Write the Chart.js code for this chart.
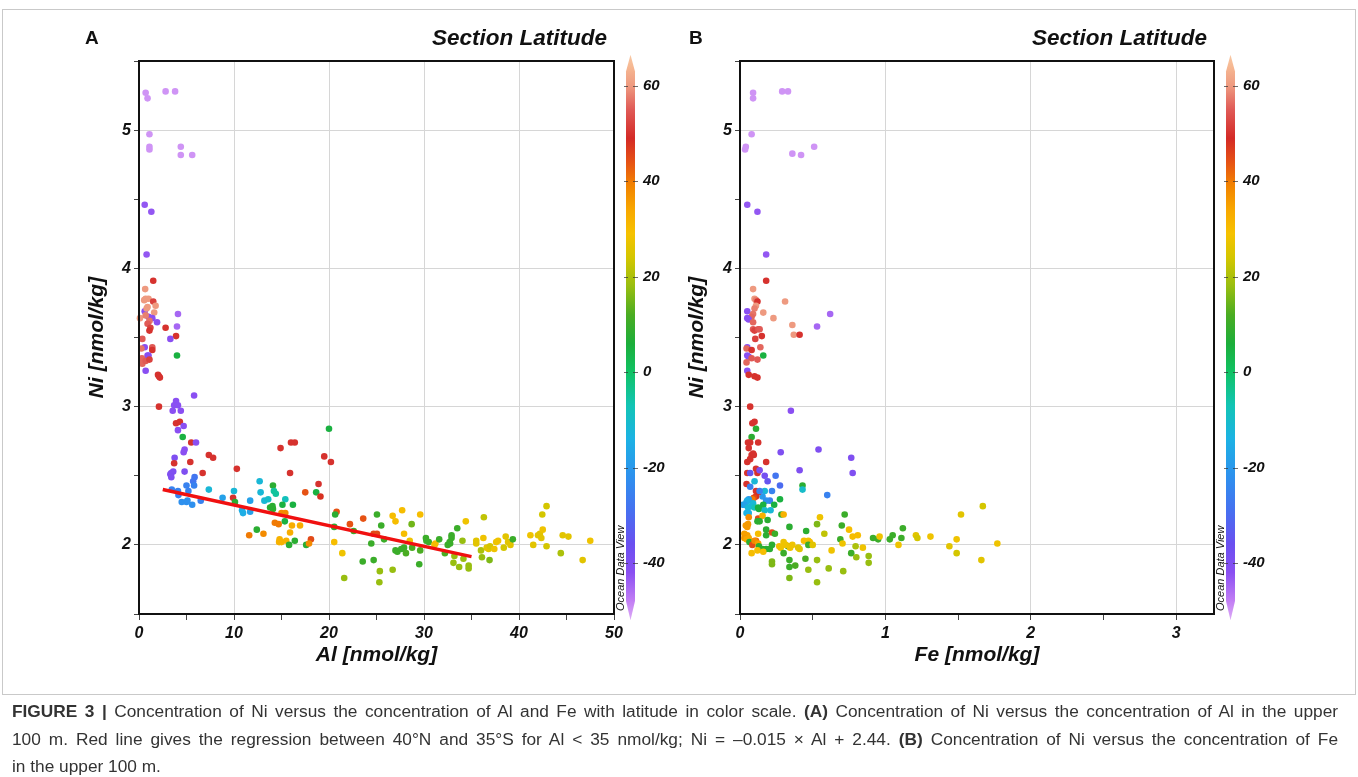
<!DOCTYPE html>
<html>
<head>
<meta charset="utf-8">
<script src="https://cdn.jsdelivr.net/npm/chart.js@4.4.0/dist/chart.umd.min.js"></script>
<style>
  body { margin: 0; background: #fff; width: 1358px; height: 777px; position: relative; overflow: hidden;
         font-family: "Liberation Sans", Arial, sans-serif; }
  #frame { position: absolute; left: 2px; top: 9px; width: 1352px; height: 684px; border: 1px solid #c9c9c9; }
  canvas { position: absolute; top: 0; }
  #cA { left: 0; }
  #cB { left: 680px; }
  .lbl { position: absolute; top: 27px; font-weight: bold; font-size: 19px; line-height: 22px; color: #111; }
  .sec { position: absolute; top: 25px; width: 300px; text-align: right; font-weight: bold; font-style: italic;
         font-size: 22.5px; line-height: 26px; color: #111; }
  #cap { position: absolute; left: 12px; top: 698px; width: 1326px; font-size: 17.3px; line-height: 27.5px; color: #333; }
  .ln { white-space: nowrap; text-align: justify; text-align-last: justify; }
  .ln.last { text-align-last: left; }
</style>
</head>
<body>
<div id="frame"></div>
<canvas id="cA" width="680" height="700"></canvas>
<canvas id="cB" width="678" height="700"></canvas>
<div class="lbl" style="left:85px">A</div>
<div class="sec" style="left:307px">Section Latitude</div>
<div class="lbl" style="left:689px">B</div>
<div class="sec" style="left:907px">Section Latitude</div>
<div id="cap">
  <div class="ln"><b>FIGURE 3 |</b> Concentration of Ni versus the concentration of Al and Fe with latitude in color scale. <b>(A)</b> Concentration of Ni versus the concentration of Al in the upper</div>
  <div class="ln">100 m. Red line gives the regression between 40°N and 35°S for Al &lt; 35 nmol/kg; Ni = –0.015 × Al + 2.44. <b>(B)</b> Concentration of Ni versus the concentration of Fe</div>
  <div class="ln last">in the upper 100 m.</div>
</div>
<script>
// ---- panel A: Al vs Ni, coloured by section latitude ----
const alA = [
  0.7,0.9,2.8,3.8,1.1,1.1,1.1,4.4,4.4,5.6,
  0.6,1.3,0.8,1.5,0.65,0.55,0.7,1.0,1.5,0.6,
  0.9,0.8,1.75,1.6,1.0,1.4,1.9,0.1,0.7,1.1,
  0.9,1.2,1.1,4.1,4.0,2.8,3.9,3.3,0.35,4.0,
  0.6,1.4,1.4,0.25,0.9,1.0,0.3,0.35,0.7,1.1,
  0.7,2.0,2.1,2.2,5.8,2.1,3.9,3.7,4.1,3.55,
  4.4,3.9,4.3,4.7,4.1,4.6,5.5,6.0,4.8,4.7,
  3.75,3.7,5.4,7.35,7.8,4.8,6.7,10.3,3.4,3.6,
  3.3,3.4,5.85,5.7,5.8,5.0,3.45,4.1,4.15,5.2,
  4.5,5.0,5.1,5.6,6.5,7.35,8.8,9.9,10.0,10.1,
  10.85,10.95,11.7,11.7,12.7,12.8,13.2,13.6,14.1,14.2,
  14.4,13.8,14.05,14.1,15.4,15.1,16.2,15.0,15.4,15.35,
  14.3,14.7,16.1,16.95,11.6,12.4,13.1,14.8,15.0,14.75,
  15.5,15.8,16.4,15.9,17.5,14.9,16.0,16.4,15.9,17.6,
  18.1,17.9,18.65,19.1,18.9,19.5,20.2,20.0,
  20.8,20.65,20.55,20.55,21.4,21.6,22.2,22.6,23.6,23.55,
  24.45,24.7,25.05,24.7,25.05,25.5,25.35,25.3,25.8,26.7,
  27.0,27.7,26.7,27.9,28.7,29.6,27.0,27.2,27.6,27.9,
  28.1,28.5,28.75,29.5,29.6,30.2,30.25,30.5,31.1,31.2,
  31.6,32.2,32.5,32.75,32.9,32.9,32.7,33.2,33.1,33.7,
  33.5,34.05,34.4,34.15,34.7,34.7,35.5,35.5,36.0,36.1,
  36.3,36.25,36.6,36.8,36.95,36.9,37.4,37.6,37.8,38.4,
  38.6,38.85,39.1,39.35,41.2,41.5,42.0,42.2,42.35,42.5,
  42.45,42.9,42.9,44.4,44.6,45.2,46.7,47.5
];
const niA = [
  5.27,5.23,5.28,5.28,4.97,4.88,4.86,4.88,4.82,4.82,
  4.46,4.41,4.10,3.91,3.85,3.77,3.78,3.78,3.76,3.69,
  3.72,3.71,3.73,3.68,3.65,3.64,3.61,3.64,3.66,3.62,
  3.60,3.57,3.55,3.67,3.58,3.57,3.51,3.49,3.49,3.37,
  3.43,3.43,3.41,3.42,3.37,3.37,3.35,3.31,3.33,3.34,
  3.26,3.23,3.22,3.21,3.08,3.00,3.04,3.01,3.01,2.97,
  2.97,2.88,2.89,2.86,2.83,2.78,2.74,2.74,2.69,2.67,
  2.63,2.59,2.60,2.65,2.63,2.53,2.52,2.55,2.52,2.53,
  2.51,2.49,2.49,2.46,2.43,2.43,2.40,2.39,2.36,2.39,
  2.31,2.31,2.32,2.29,2.32,2.40,2.34,2.34,2.39,2.31,
  2.25,2.23,2.32,2.24,2.46,2.38,2.32,2.33,2.43,2.39,
  2.37,2.27,2.28,2.26,2.33,2.29,2.29,2.23,2.23,2.17,
  2.16,2.15,2.14,2.14,2.07,2.11,2.08,2.04,2.02,2.02,
  2.03,2.00,2.03,2.09,2.38,2.70,2.74,2.74,2.52,2.00,
  2.04,2.01,2.38,2.35,2.44,2.64,2.60,2.84,
  2.24,2.22,2.13,2.02,1.94,1.76,2.15,2.10,2.19,1.88,
  2.01,1.89,2.22,2.08,2.08,2.14,1.81,1.73,2.04,2.21,
  2.17,2.25,1.82,2.08,2.15,2.22,1.96,1.95,1.97,1.98,
  1.94,2.03,1.98,1.86,1.96,2.05,2.03,2.02,2.00,2.01,
  2.04,1.94,2.00,2.01,2.05,2.07,2.02,1.92,1.87,1.84,
  2.12,2.03,2.17,1.90,1.85,1.83,2.03,2.01,1.96,1.91,
  2.20,2.05,1.98,1.97,1.99,1.89,1.97,2.02,2.03,1.98,
  2.06,2.02,2.00,2.04,2.07,2.00,2.07,2.08,2.05,2.11,
  2.22,2.28,1.99,1.94,2.07,2.06,1.89,2.03
];
const latA = [
  -50,-50,-50,-50,-50,-50,-50,-50,-50,-50,
  -43,-43,-43,50,60,60,60,60,52,-42,
  60,60,60,60,-42,-42,-42,60,58,57,
  55,52,50,-45,-45,50,50,-42,55,5,
  -42,55,50,57,-42,-42,56,56,55,52,
  -42,50,50,50,-42,50,-42,-42,-42,-42,
  -42,50,50,-42,-42,5,50,-42,-42,-42,
  -40,50,50,50,50,-40,50,50,-40,-40,
  -40,-40,-28,-28,-25,-25,-25,-25,-25,-25,
  -22,-22,-22,-22,-25,-12,-18,50,-12,8,
  -15,-15,-18,-18,-12,-12,-12,-10,8,-5,
  -5,8,8,8,-8,5,5,38,38,5,
  40,40,33,33,40,8,38,32,32,32,
  32,8,8,33,44,50,50,50,50,8,
  45,38,5,48,50,50,50,5,
  44,8,8,30,28,18,44,10,44,10,
  10,10,10,45,45,10,18,18,10,30,
  30,30,18,30,15,30,10,10,10,10,
  12,28,12,10,12,10,10,10,30,30,
  10,12,10,10,10,10,10,18,18,18,
  10,18,28,18,18,18,26,26,20,18,
  22,28,26,26,24,16,28,28,28,24,
  26,26,26,10,28,26,26,26,26,28,
  24,24,24,20,26,26,26,28
];
// regression endpoints (40N to 35S, Al < 35)
const regAl = [2.5, 35];
const regNi = [2.40, 1.915];

// ---- panel B: Fe vs Ni ----
const feB = [
  0.09,0.09,0.29,0.33,0.08,0.04,0.035,0.36,0.42,0.51,
  0.05,0.12,0.18,
  0.18,0.09,0.10,0.11,0.12,0.31,0.16,0.05,0.11,0.10,
  0.09,0.08,0.05,0.06,0.23,0.62,0.09,0.09,0.10,0.125,
  0.135,0.36,0.53,0.37,0.41,0.15,0.105,0.05,0.045,0.08,
  0.14,0.05,0.06,0.08,0.12,0.045,0.16,0.05,0.06,0.10,
  0.12,0.07,0.35,0.085,0.10,0.11,0.08,0.055,0.07,0.125,
  0.06,
  0.28,0.54,0.765,0.775,0.08,0.09,0.095,0.05,0.07,0.18,
  0.11,0.12,0.13,0.05,0.07,0.135,0.41,0.17,0.19,0.245,
  0.275,0.045,0.07,0.10,0.43,0.43,0.60,0.22,0.205,0.17,
  0.155,0.18,0.11,0.125,0.11,0.095,0.085,0.135,0.275,0.235,
  0.21,0.06,0.05,0.045,0.02,0.03,0.055,0.08,0.09,0.10,
  0.125,0.16,0.045,0.06,0.13,0.17,0.285,0.30,0.06,0.125,
  0.155,0.12,0.135,0.19,0.04,0.055,0.05,0.55,0.72,0.53,
  0.70,0.34,0.18,0.18,0.455,0.75,0.03,0.05,0.06,0.03,
  0.045,0.125,0.22,0.24,0.58,0.775,0.81,0.44,0.47,0.48,
  0.69,0.915,0.95,0.96,1.03,1.05,1.11,1.12,1.09,1.21,
  1.22,1.31,1.44,0.065,0.085,0.11,0.10,0.125,0.13,0.155,
  0.18,0.205,0.22,0.08,0.12,0.16,0.27,0.28,0.33,0.345,
  0.36,0.30,0.315,0.40,0.41,0.47,0.50,0.30,0.22,0.22,
  0.34,0.34,0.38,0.34,0.45,0.47,0.53,0.53,0.61,0.63,
  0.71,0.705,0.765,0.795,0.80,0.845,0.885,0.885,1.49,1.49,
  1.52,1.67,1.66,1.77
];
const niB = [
  5.27,5.23,5.28,5.28,4.97,4.88,4.86,4.83,4.82,4.88,
  4.46,4.41,4.10,
  3.91,3.85,3.78,3.77,3.76,3.76,3.68,3.69,3.73,3.71,
  3.67,3.65,3.64,3.63,3.64,3.67,3.61,3.56,3.55,3.56,
  3.56,3.59,3.58,3.52,3.52,3.51,3.49,3.43,3.42,3.41,
  3.43,3.37,3.36,3.35,3.34,3.32,3.37,3.26,3.23,3.22,
  3.21,3.00,2.97,2.88,2.89,2.84,2.78,2.74,2.74,2.74,
  2.70,
  2.67,2.69,2.63,2.52,2.65,2.66,2.65,2.60,2.62,2.60,
  2.55,2.52,2.54,2.52,2.52,2.54,2.54,2.50,2.46,2.50,
  2.43,2.44,2.42,2.46,2.43,2.40,2.36,2.39,2.32,2.39,
  2.35,2.32,2.39,2.38,2.35,2.34,2.33,2.39,2.33,2.29,
  2.25,2.33,2.32,2.31,2.29,2.29,2.27,2.28,2.30,2.27,
  2.27,2.29,2.23,2.23,2.26,2.25,2.22,2.22,2.20,2.19,
  2.21,2.17,2.17,2.18,2.14,2.15,2.13,2.20,2.22,2.15,
  2.14,2.13,2.11,2.07,2.10,2.11,2.08,2.07,2.05,2.05,
  2.04,2.08,2.09,2.08,2.08,2.06,2.07,2.03,2.03,2.02,
  2.04,2.05,2.04,2.06,2.04,2.07,2.05,2.12,2.00,2.07,
  2.05,2.06,1.99,2.02,2.00,2.03,2.03,2.01,1.99,1.97,
  1.97,1.97,2.00,1.94,1.96,1.95,1.99,1.98,1.99,1.98,
  2.00,2.02,2.00,1.98,1.97,2.00,2.00,1.94,1.88,1.86,
  1.89,1.84,1.85,1.76,1.90,1.82,1.89,1.73,1.83,1.96,
  1.81,2.01,1.94,1.99,1.91,1.98,1.92,1.87,2.04,1.94,
  2.22,2.28,1.89,2.01
];
const latB = [
  -50,-50,-50,-50,-50,-50,-50,-50,-50,-50,
  -43,-43,-43,
  50,60,60,58,50,60,60,-42,60,58,
  57,56,-42,-42,60,-45,56,55,52,54,
  55,60,-45,60,50,50,52,-42,56,50,
  56,-42,-42,55,55,56,5,-42,50,50,
  50,50,-42,50,50,8,8,50,50,50,
  50,
  -40,-40,-40,-40,50,50,50,50,50,50,
  50,50,50,50,-35,-40,-40,-38,-35,-28,
  -30,50,-25,-12,8,-10,-25,-25,-25,-12,
  -20,-22,50,48,48,45,40,-25,5,5,
  -12,-20,-15,-15,-18,-18,-12,-12,-12,-8,
  5,5,-14,-14,5,-10,8,32,38,45,
  32,8,8,8,36,36,36,28,10,16,
  10,8,8,8,8,30,35,35,34,36,
  34,30,45,10,22,30,30,30,28,30,
  10,10,10,28,10,10,10,10,28,26,
  24,28,26,8,45,42,38,35,8,8,
  8,8,8,30,30,30,30,28,10,28,
  28,28,28,26,26,10,26,10,16,16,
  10,10,12,16,12,18,18,18,18,28,
  18,28,10,20,18,28,18,18,28,24,
  26,24,26,28
];

// axes
const niRange = [1.5, 5.5];
const alRange = [0, 50];
const feRange = [0, 3.26];
const latRange = [-50.7, 65.2];
const latTicks = [-40, -20, 0, 20, 40, 60];

// colour scale (Ocean Data View rainbow)
const CMAP = [
  [-52,'#dcaaf6'],[-48,'#c27ef4'],[-42,'#8a4ff2'],[-36,'#6a50f0'],[-29,'#4670f0'],
  [-22,'#2e90ee'],[-14,'#1cb2e4'],[-7,'#12c4b4'],[0,'#10c264'],[6,'#1cae3a'],
  [12,'#4aac22'],[18,'#98be10'],[24,'#d4c600'],[29,'#f6c200'],[34,'#f8a800'],
  [39,'#f28400'],[44,'#e65214'],[49,'#d42a26'],[55,'#e05a56'],[60,'#ee9a80'],
  [64,'#f6b892'],[66.5,'#f8c8a4']
];
const FONT = "'Liberation Sans', Arial, sans-serif";
Chart.defaults.font.family = FONT;

function hexRgb(h) { return [1,3,5].map(i => parseInt(h.substr(i,2),16)); }
function mix(a, b, t) {
  const A = hexRgb(a), B = hexRgb(b);
  return 'rgb(' + A.map((x,i) => Math.round(x + (B[i]-x)*t)).join(',') + ')';
}
function colorOf(v) {
  if (v <= CMAP[0][0]) return CMAP[0][1];
  for (let i = 1; i < CMAP.length; i++) {
    if (v <= CMAP[i][0]) {
      const t = (v - CMAP[i-1][0]) / (CMAP[i][0] - CMAP[i-1][0]);
      return mix(CMAP[i-1][1], CMAP[i][1], t);
    }
  }
  return CMAP[CMAP.length-1][1];
}
function isMajor(v, step) { return Math.abs(v/step - Math.round(v/step)) < 1e-6; }

// frame around plot + colour bar on the right
const framePlugin = {
  id: 'framePlugin',
  afterDraw(chart) {
    const ctx = chart.ctx, a = chart.chartArea, s = chart.scales.lat;
    ctx.save();
    ctx.lineWidth = 2;
    ctx.strokeStyle = '#111';
    ctx.strokeRect(a.left, a.top, a.right - a.left, a.bottom - a.top);

    const x0 = a.right + 12, w = 9;
    const pTip = s.getPixelForValue(66.5), pTop = s.getPixelForValue(63);
    const pBot = s.getPixelForValue(-48), pTipB = s.getPixelForValue(-52);
    const g = ctx.createLinearGradient(0, pTip, 0, pTipB);
    CMAP.forEach(([v, c]) => {
      const o = (s.getPixelForValue(v) - pTip) / (pTipB - pTip);
      g.addColorStop(Math.min(1, Math.max(0, o)), c);
    });
    ctx.fillStyle = g;
    ctx.beginPath();
    ctx.moveTo(x0, pTop);
    ctx.lineTo(x0 + w/2, pTip);
    ctx.lineTo(x0 + w, pTop);
    ctx.lineTo(x0 + w, pBot);
    ctx.lineTo(x0 + w/2, pTipB);
    ctx.lineTo(x0, pBot);
    ctx.closePath();
    ctx.fill();

    ctx.strokeStyle = 'rgba(50,50,50,0.7)';
    ctx.lineWidth = 1;
    latTicks.forEach(v => {
      const y = Math.round(s.getPixelForValue(v)) + 0.5;
      ctx.beginPath();
      ctx.moveTo(x0 - 2, y); ctx.lineTo(x0 + 2, y);
      ctx.moveTo(x0 + w - 2, y); ctx.lineTo(x0 + w + 3, y);
      ctx.stroke();
    });

    ctx.translate(a.right + 7, a.bottom - 3);
    ctx.rotate(-Math.PI/2);
    ctx.fillStyle = '#111';
    ctx.font = 'italic 11px ' + FONT;
    ctx.textAlign = 'left';
    ctx.textBaseline = 'middle';
    ctx.fillText('Ocean Data View', 0, 0);
    ctx.restore();
  }
};

const tickFont = { family: FONT, size: 16, weight: 'bold', style: 'italic' };
const titleFont = { family: FONT, size: 21, weight: 'bold', style: 'italic' };

function makePanel(id, xs, ys, lats, cfg) {
  const datasets = [];
  if (cfg.reg) {
    datasets.push({
      type: 'line', order: 0,
      data: cfg.reg[0].map((x, i) => ({ x: x, y: cfg.reg[1][i] })),
      borderColor: '#f01010', borderWidth: 3.5, pointRadius: 0, fill: false
    });
  }
  datasets.push({
    type: 'scatter', order: 1,
    data: xs.map((x, i) => ({ x: x, y: ys[i] })),
    backgroundColor: lats.map(colorOf),
    pointRadius: 3.3, borderWidth: 0, clip: 5
  });

  return new Chart(document.getElementById(id), {
    type: 'scatter',
    data: { datasets: datasets },
    options: {
      responsive: false, animation: false, devicePixelRatio: 1, events: [],
      layout: { padding: { top: 61, bottom: 26, left: 0, right: 0 } },
      plugins: { legend: { display: false }, tooltip: { enabled: false } },
      scales: {
        x: {
          type: 'linear', min: cfg.xRange[0], max: cfg.xRange[1],
          afterFit: s => { s.height = 60; },
          ticks: {
            stepSize: cfg.xStep / 2, includeBounds: false, autoSkip: false, maxRotation: 0,
            padding: 4, color: '#111', font: tickFont,
            callback: v => isMajor(v, cfg.xStep) ? v : ''
          },
          grid: {
            color: c => (c.tick && isMajor(c.tick.value, cfg.xStep) && c.tick.value > cfg.xRange[0]) ? '#d6d6d6' : 'rgba(0,0,0,0)',
            tickLength: 6, tickColor: '#444'
          },
          border: { display: true, color: '#111', width: 2 },
          title: { display: true, text: cfg.xTitle, color: '#111', font: titleFont, padding: { top: 0, bottom: 6.4 } }
        },
        y: {
          type: 'linear', position: 'left', min: niRange[0], max: niRange[1],
          afterFit: s => { s.width = cfg.yWidth; },
          ticks: {
            stepSize: 0.5, includeBounds: false, autoSkip: false,
            padding: 3, color: '#111', font: tickFont,
            callback: v => isMajor(v, 1) ? v : ''
          },
          grid: {
            color: c => (c.tick && isMajor(c.tick.value, 1)) ? '#d6d6d6' : 'rgba(0,0,0,0)',
            tickLength: 5, tickColor: '#444'
          },
          border: { display: true, color: '#111', width: 2 },
          title: { display: true, text: 'Ni [nmol/kg]', color: '#111', font: titleFont, padding: { top: cfg.yTitlePad, bottom: 0 } }
        },
        lat: {
          type: 'linear', position: 'right', min: latRange[0], max: latRange[1],
          afterFit: s => { s.width = cfg.cbWidth; },
          afterBuildTicks: s => { s.ticks = latTicks.map(v => ({ value: v })); },
          grid: { display: false, drawTicks: false },
          border: { display: false },
          ticks: { padding: 29, color: '#111', font: { family: FONT, size: 15, weight: 'bold', style: 'italic' } }
        }
      }
    },
    plugins: [framePlugin]
  });
}

makePanel('cA', alA, niA, latA, {
  xRange: alRange, xStep: 10, xTitle: 'Al [nmol/kg]',
  yWidth: 139, yTitlePad: 84.4, cbWidth: 66, reg: [regAl, regNi]
});
makePanel('cB', feB, niB, latB, {
  xRange: feRange, xStep: 1, xTitle: 'Fe [nmol/kg]',
  yWidth: 60, yTitlePad: 4.4, cbWidth: 144, reg: null
});
</script>
</body>
</html>
